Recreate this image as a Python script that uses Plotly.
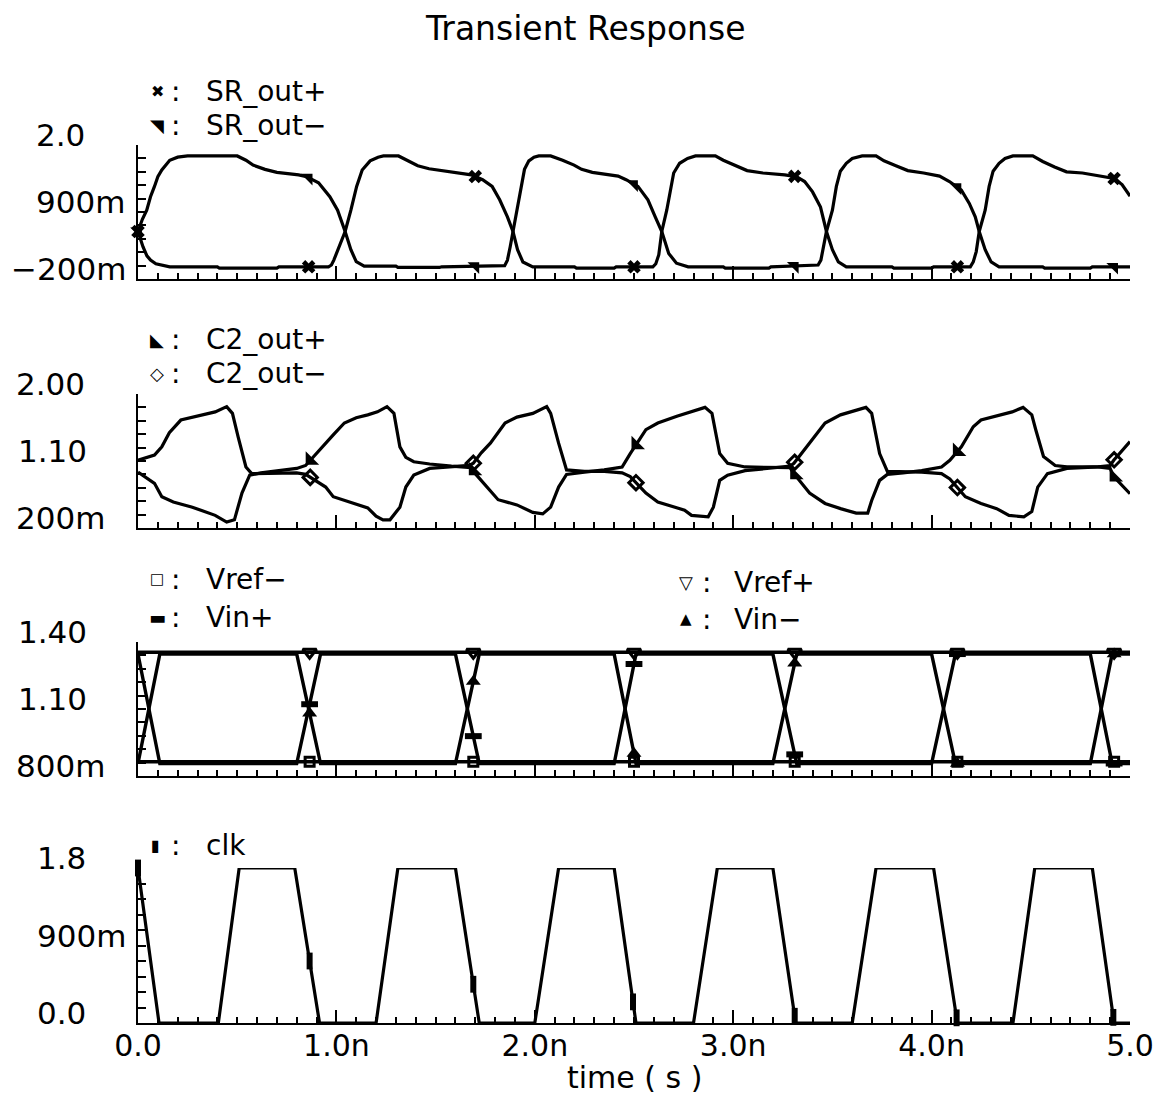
import numpy as np
import plotly.graph_objects as go

# ---------------- data (time in ns) ----------------
# SR latch outputs
t_sr_minus = [0.000, 0.022, 0.044, 0.063, 0.083, 0.100, 0.120, 0.160, 0.200, 0.250,
              0.500, 0.544, 0.580, 0.640, 0.700, 0.810, 0.850, 0.910, 0.967, 1.006,
              1.044, 1.073, 1.100, 1.140, 1.300, 1.310, 1.520, 1.530, 1.848, 1.862,
              1.876, 1.890, 1.912, 1.930, 1.948, 1.970, 1.996, 2.020, 2.080, 2.140,
              2.198, 2.236, 2.290, 2.420, 2.460, 2.520, 2.570, 2.607, 2.640, 2.675,
              2.714, 2.773, 2.950, 2.960, 3.180, 3.190, 3.428, 3.442, 3.456, 3.470,
              3.500, 3.520, 3.540, 3.570, 3.600, 3.650, 3.720, 3.760, 3.820, 3.880,
              3.960, 4.040, 4.090, 4.150, 4.190, 4.220, 4.240, 4.270, 4.300, 4.340,
              4.560, 4.570, 4.800, 4.810, 5.000]
v_sr_minus = [0.58, 0.78, 0.93, 1.15, 1.32, 1.48, 1.59, 1.75, 1.80, 1.82,
              1.82, 1.75, 1.67, 1.60, 1.55, 1.51, 1.48, 1.38, 1.15, 0.93,
              0.58, 0.28, 0.085, 0.01, 0.01, -0.01, -0.01, 0.0, 0.02, 0.11,
              0.33, 0.58, 0.93, 1.32, 1.60, 1.74, 1.80, 1.82, 1.82, 1.75,
              1.67, 1.60, 1.55, 1.49, 1.43, 1.32, 1.10, 0.82, 0.58, 0.22,
              0.06, 0.0, 0.0, -0.02, -0.02, 0.0, 0.03, 0.11, 0.33, 0.58,
              0.93, 1.32, 1.57, 1.70, 1.78, 1.82, 1.82, 1.74, 1.66, 1.58,
              1.54, 1.49, 1.40, 1.26, 1.04, 0.82, 0.58, 0.28, 0.08, 0.0,
              0.0, -0.02, -0.02, 0.0, 0.0]

t_sr_plus = [0.000, 0.025, 0.045, 0.063, 0.090, 0.120, 0.160, 0.400, 0.410, 0.700,
             0.710, 0.960, 0.975, 0.987, 1.015, 1.044, 1.073, 1.102, 1.130, 1.170,
             1.210, 1.237, 1.313, 1.352, 1.410, 1.467, 1.583, 1.680, 1.737, 1.785,
             1.823, 1.862, 1.890, 1.913, 1.940, 1.990, 2.200, 2.210, 2.400, 2.410,
             2.595, 2.610, 2.625, 2.640, 2.665, 2.685, 2.700, 2.730, 2.770, 2.810,
             2.910, 2.950, 3.010, 3.070, 3.150, 3.260, 3.320, 3.360, 3.400, 3.440,
             3.470, 3.500, 3.530, 3.570, 3.800, 3.810, 4.000, 4.010, 4.195, 4.210,
             4.225, 4.240, 4.270, 4.290, 4.310, 4.340, 4.370, 4.410, 4.510, 4.560,
             4.620, 4.680, 4.760, 4.860, 4.920, 4.960, 5.000]
v_sr_plus = [0.58, 0.33, 0.18, 0.11, 0.05, 0.03, 0.0, 0.0, -0.02, -0.02,
             0.0, 0.0, 0.03, 0.11, 0.33, 0.58, 0.93, 1.32, 1.59, 1.74,
             1.80, 1.82, 1.82, 1.75, 1.66, 1.61, 1.55, 1.51, 1.43, 1.32,
             1.10, 0.82, 0.58, 0.28, 0.08, 0.0, 0.0, -0.02, -0.02, 0.0,
             0.0, 0.05, 0.20, 0.58, 0.93, 1.32, 1.54, 1.70, 1.78, 1.82,
             1.82, 1.75, 1.66, 1.58, 1.54, 1.51, 1.48, 1.40, 1.23, 0.98,
             0.58, 0.28, 0.08, 0.0, 0.0, -0.02, -0.02, 0.0, 0.0, 0.08,
             0.25, 0.58, 0.93, 1.32, 1.57, 1.70, 1.78, 1.82, 1.82, 1.73,
             1.64, 1.56, 1.54, 1.49, 1.45, 1.35, 1.16]

# Comparator second-stage outputs
t_c2_plus = [0.000, 0.040, 0.083, 0.120, 0.178, 0.274, 0.389, 0.447, 0.486, 0.524,
             0.563, 0.620, 0.700, 0.800, 0.845, 0.868, 0.946, 0.984, 1.040, 1.100,
             1.158, 1.207, 1.255, 1.290, 1.320, 1.350, 1.390, 1.470, 1.580, 1.680,
             1.700, 1.730, 1.776, 1.815, 1.910, 1.990, 2.040, 2.080, 2.120, 2.160,
             2.250, 2.350, 2.440, 2.481, 2.560, 2.620, 2.716, 2.815, 2.858, 2.893,
             2.932, 2.972, 3.060, 3.286, 3.306, 3.385, 3.463, 3.541, 3.620, 3.678,
             3.698, 3.738, 3.777, 3.856, 3.950, 4.050, 4.092, 4.150, 4.210, 4.249,
             4.328, 4.406, 4.461, 4.505, 4.525, 4.564, 4.623, 4.682, 4.839, 4.900,
             4.918, 5.000]
v_c2_plus = [0.95, 0.88, 0.80, 0.62, 0.55, 0.48, 0.37, 0.28, 0.31, 0.67,
             0.91, 0.94, 0.97, 1.00, 1.04, 1.11, 1.34, 1.45, 1.61, 1.68,
             1.72, 1.76, 1.83, 1.74, 1.29, 1.15, 1.09, 1.06, 1.03, 1.01,
             0.93, 0.84, 0.71, 0.58, 0.51, 0.41, 0.39, 0.48, 0.75, 0.92,
             0.95, 0.98, 1.02, 1.20, 1.52, 1.61, 1.70, 1.78, 1.82, 1.74,
             1.20, 1.07, 1.02, 1.01, 0.93, 0.67, 0.53, 0.46, 0.40, 0.40,
             0.57, 0.84, 0.92, 0.94, 0.97, 1.02, 1.11, 1.29, 1.56, 1.65,
             1.70, 1.76, 1.82, 1.72, 1.52, 1.16, 1.04, 1.02, 1.02, 1.00,
             0.89, 0.66]

t_c2_minus = [0.000, 0.083, 0.120, 0.158, 0.216, 0.274, 0.330, 0.389, 0.447, 0.476,
              0.505, 0.544, 0.573, 0.620, 0.700, 0.800, 0.845, 0.868, 0.946, 0.984,
              1.040, 1.158, 1.200, 1.235, 1.270, 1.320, 1.350, 1.390, 1.470, 1.580,
              1.670, 1.690, 1.730, 1.776, 1.815, 1.850, 1.910, 1.990, 2.060, 2.080,
              2.120, 2.160, 2.250, 2.350, 2.440, 2.481, 2.560, 2.620, 2.755, 2.790,
              2.874, 2.900, 2.932, 2.972, 3.060, 3.286, 3.306, 3.385, 3.463, 3.541,
              3.620, 3.669, 3.698, 3.738, 3.777, 3.856, 3.950, 4.050, 4.092, 4.170,
              4.249, 4.328, 4.390, 4.465, 4.505, 4.535, 4.584, 4.682, 4.839, 4.900,
              4.918, 5.000]
v_c2_minus = [1.11, 1.18, 1.29, 1.48, 1.65, 1.69, 1.73, 1.76, 1.83, 1.74,
              1.42, 1.02, 0.93, 0.93, 0.93, 0.94, 0.92, 0.88, 0.75, 0.62,
              0.575, 0.47, 0.36, 0.31, 0.31, 0.48, 0.75, 0.91, 1.00, 1.02,
              1.04, 1.07, 1.21, 1.34, 1.48, 1.61, 1.69, 1.74, 1.83, 1.74,
              1.34, 0.98, 0.96, 0.96, 0.94, 0.89, 0.67, 0.55, 0.44, 0.37,
              0.35, 0.48, 0.84, 0.91, 0.97, 1.03, 1.07, 1.34, 1.61, 1.72,
              1.78, 1.82, 1.74, 1.20, 0.96, 0.96, 0.95, 0.93, 0.86, 0.62,
              0.53, 0.46, 0.37, 0.35, 0.42, 0.75, 0.93, 1.00, 1.02, 1.04,
              1.11, 1.36]

# Reference and input voltages
t_vref = [0.0, 5.0]
v_vref_plus = [1.354, 1.354]
v_vref_minus = [0.864, 0.864]
t_vin = [0.0, 0.11, 0.80, 0.92, 1.60, 1.72, 2.40, 2.51, 3.20, 3.32,
         4.00, 4.12, 4.80, 4.91, 5.00]
v_vin_plus = [1.346, 0.856, 0.856, 1.346, 1.346, 0.856, 0.856, 1.346, 1.346, 0.856,
              0.856, 1.346, 1.346, 0.856, 0.856]
v_vin_minus = [0.856, 1.346, 1.346, 0.856, 0.856, 1.346, 1.346, 0.856, 0.856, 1.346,
               1.346, 0.856, 0.856, 1.346, 1.346]

# Clock
t_clk = [0.0, 0.106, 0.405, 0.51, 0.79, 0.915, 1.20, 1.31, 1.60, 1.72,
         2.00, 2.12, 2.40, 2.51, 2.80, 2.92, 3.20, 3.315, 3.60, 3.72,
         4.01, 4.13, 4.41, 4.52, 4.81, 4.92, 5.00]
v_clk = [1.8, 0.0, 0.0, 1.8, 1.8, 0.0, 0.0, 1.8, 1.8, 0.0,
         0.0, 1.8, 1.8, 0.0, 0.0, 1.8, 1.8, 0.0, 0.0, 1.8,
         1.8, 0.0, 0.0, 1.8, 1.8, 0.0, 0.0]

# Marker sample times
sr_marker_t = [0.0, 0.86, 1.70, 2.50, 3.31, 4.13, 4.92]
c2_marker_t = [0.868, 1.69, 2.51, 3.31, 4.13, 4.92]
vin_marker_t = [0.865, 1.69, 2.50, 3.31, 4.13, 4.92]
clk_marker_t = [0.0, 0.865, 1.69, 2.495, 3.31, 4.126, 4.916]

# Axis labels
x_tick_vals = [0, 1, 2, 3, 4, 5]
x_tick_text = ["0.0", "1.0n", "2.0n", "3.0n", "4.0n", "5.0"]
y_ranges = [(-0.2, 2.0), (0.2, 2.0), (0.8, 1.4), (0.0, 1.8)]
y_labels = [
    [("2.0", 2.0, 35), ("900m", 0.9, 35), ("\u2212200m", -0.2, 10)],
    [("2.00", 2.0, 15), ("1.10", 1.1, 17), ("200m", 0.2, 15)],
    [("1.40", 1.4, 17), ("1.10", 1.1, 17), ("800m", 0.8, 15)],
    [("1.8", 1.8, 36), ("900m", 0.9, 36), ("0.0", 0.0, 36)],
]

# ---------------- layout helpers ----------------
W, H = 1171, 1106
FONT = "DejaVu Sans"
LW = 3.2


def px(x):
    return x / W


def py(y):
    return 1 - y / H


XDOM = [px(138), px(1130)]
panel_px = [(145, 279), (394, 528), (642, 776), (868, 1023)]

fig = go.Figure()


def axis_names(i):
    s = "" if i == 0 else str(i + 1)
    return "x" + s, "y" + s


def add_line(i, t, v, width=LW):
    xa, ya = axis_names(i)
    fig.add_trace(go.Scatter(x=t, y=v, mode="lines", xaxis=xa, yaxis=ya,
                             line=dict(color="black", width=width),
                             showlegend=False, hoverinfo="skip"))


def add_markers(i, times, t, v, symbol, size, lw):
    xa, ya = axis_names(i)
    ys = np.interp(times, t, v)
    fig.add_trace(go.Scatter(x=times, y=ys, mode="markers", xaxis=xa, yaxis=ya,
                             marker=dict(symbol=symbol, size=size, color="black",
                                         line=dict(color="black", width=lw)),
                             cliponaxis=False, showlegend=False, hoverinfo="skip"))


# Panel 1
add_line(0, t_sr_plus, v_sr_plus)
add_line(0, t_sr_minus, v_sr_minus)
add_markers(0, sr_marker_t, t_sr_plus, v_sr_plus, "x", 12, 0)
add_markers(0, sr_marker_t, t_sr_minus, v_sr_minus, "triangle-ne", 13, 0)
# Panel 2
add_line(1, t_c2_plus, v_c2_plus)
add_line(1, t_c2_minus, v_c2_minus)
add_markers(1, c2_marker_t, t_c2_plus, v_c2_plus, "triangle-sw", 15, 0)
add_markers(1, c2_marker_t, t_c2_minus, v_c2_minus, "diamond-open", 11, 3)
# Panel 3
add_line(2, t_vref, v_vref_plus, 3.4)
add_line(2, t_vref, v_vref_minus, 3.4)
add_line(2, t_vin, v_vin_plus, 3.4)
add_line(2, t_vin, v_vin_minus, 3.4)
add_markers(2, vin_marker_t, t_vref, v_vref_minus, "square-open", 9, 3)
add_markers(2, vin_marker_t, t_vin, v_vin_plus, "line-ew", 12, 6)
add_markers(2, vin_marker_t, t_vref, v_vref_plus, "triangle-down-open", 12, 3)
add_markers(2, vin_marker_t, t_vin, v_vin_minus, "triangle-up", 13, 0)
# Panel 4
add_line(3, t_clk, v_clk)
add_markers(3, clk_marker_t, t_clk, v_clk, "line-ns", 12, 6)

layout = dict(width=W, height=H, autosize=False,
              margin=dict(l=0, r=0, t=0, b=0, pad=0, autoexpand=False),
              paper_bgcolor="white", plot_bgcolor="white",
              font=dict(family=FONT, color="black", size=30),
              showlegend=False)

for i in range(4):
    xa, ya = axis_names(i)
    xk = "xaxis" + ("" if i == 0 else str(i + 1))
    yk = "yaxis" + ("" if i == 0 else str(i + 1))
    top, bot = panel_px[i]
    lo, hi = y_ranges[i]
    layout[xk] = dict(domain=XDOM, anchor=ya, range=[0, 5], automargin=False,
                      showline=True, linecolor="black", linewidth=2,
                      ticks="inside", ticklen=13, tickwidth=2, tickcolor="black",
                      tickmode="array", tickvals=x_tick_vals,
                      ticktext=x_tick_text, showticklabels=(i == 3),
                      ticklabelstandoff=-5,
                      tickfont=dict(family=FONT, size=30, color="black"),
                      minor=dict(tickmode="linear", tick0=0, dtick=0.1,
                                 ticks="inside", ticklen=6, tickwidth=1.5,
                                 tickcolor="black", showgrid=False),
                      showgrid=False, zeroline=False, fixedrange=True)
    layout[yk] = dict(domain=[py(bot), py(top)], anchor=xa, range=[lo, hi],
                      automargin=False,
                      showline=True, linecolor="black", linewidth=2,
                      ticks="inside", ticklen=8, tickwidth=2, tickcolor="black",
                      tickmode="array", tickvals=list(np.linspace(lo, hi, 11)),
                      showticklabels=False, showgrid=False, zeroline=False,
                      fixedrange=True)

ann = []


def text(x, y, s, size=30, xanchor="left", yref="paper", yshift=0):
    ann.append(dict(x=x, y=y, xref="paper", yref=yref, text=s, showarrow=False,
                    xanchor=xanchor, yanchor="middle", yshift=yshift,
                    borderpad=0,
                    font=dict(family=FONT, size=size, color="black")))


# Title and x-axis title
text(px(585), py(28), "Transient Response", size=33, xanchor="center")
text(px(634), py(1077), "time ( s )", size=30, xanchor="center")

# Y tick labels
for i in range(4):
    _, ya = axis_names(i)
    for lab, val, left in y_labels[i]:
        text(px(left), val, lab, size=31, yref=ya, yshift=10)

# Legends: (glyph, glyph size, glyph x, colon x, label x, y, label)
legend_rows = [
    ("\u2716", 16, 157, 176, 205, 91, "SR_out+"),
    ("\u25E5", 18, 157, 176, 205, 125, "SR_out\u2212"),
    ("\u25E3", 18, 157, 176, 205, 339, "C2_out+"),
    ("<b>\u25C7</b>", 18, 157, 176, 205, 374, "C2_out\u2212"),
    ("<b>\u25A1</b>", 15, 157, 176, 205, 579, "Vref\u2212"),
    ("\u25AC", 18, 157, 176, 205, 617, "Vin+"),
    ("<b>\u25BD</b>", 18, 686, 706, 733, 582, "Vref+"),
    ("\u25B2", 15, 686, 706, 733, 619, "Vin\u2212"),
    ("\u25AE", 16, 155, 176, 205, 845, "clk"),
]
for glyph, gs, gx, cx, lx, yy, lab in legend_rows:
    text(px(gx), py(yy), glyph, size=gs, xanchor="center")
    text(px(cx), py(yy), ":", size=28, xanchor="center")
    text(px(lx), py(yy), lab, size=28)

layout["annotations"] = ann
fig.update_layout(**layout)
fig.write_html("out.html")
